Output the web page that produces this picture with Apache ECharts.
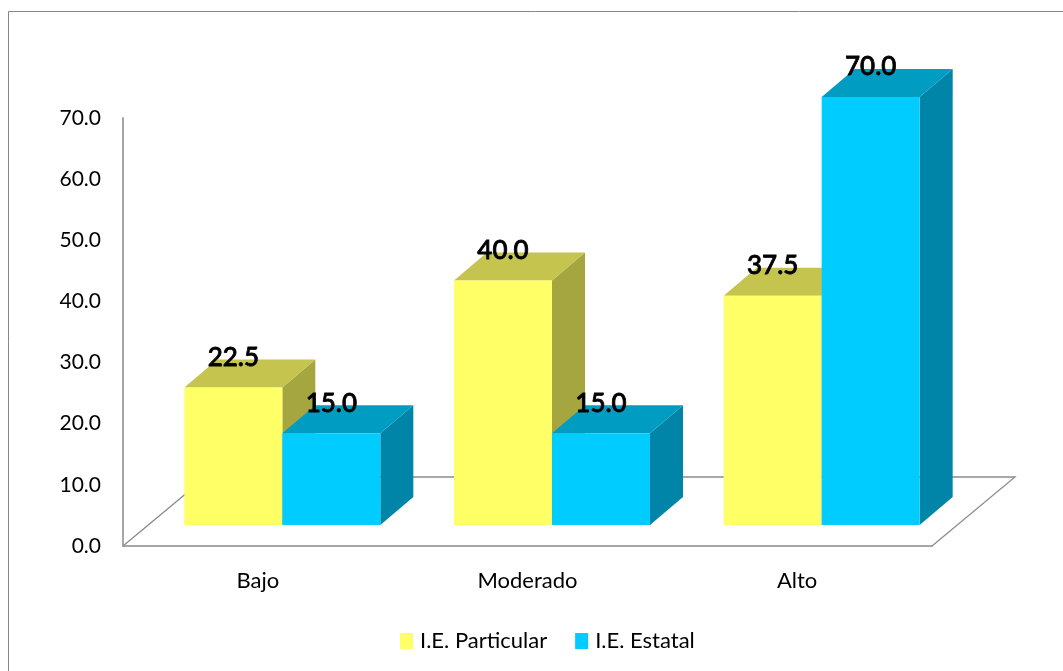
<!DOCTYPE html>
<html>
<head>
<meta charset="utf-8">
<style>html,body{margin:0;padding:0;background:#fff}#chart{width:1063px;height:671px}</style>
<script src="https://cdn.jsdelivr.net/npm/echarts@6/dist/echarts.min.js"></script>
</head>
<body>
<div id="chart"></div>
<script>
// Nivel por tipo de institución educativa
const categories = ['Bajo', 'Moderado', 'Alto'];
const particular = [22.5, 40.0, 37.5];
const estatal = [15.0, 15.0, 70.0];
const yMax = 70;
const yStep = 10;

// Pseudo-3D geometry, in pixels
const BAR_W = 98;
const BAR_SHIFT = 24.5;   // boundary between the two bars, right of the band centre
const BASE_LIFT = 21;     // bars stand this far above the front edge of the floor
const DEPTH_X = 33;
const DEPTH_Y = 28;
const FLOOR_X = 83;
const FLOOR_Y = 69;

const FONT = 'Lato, "Open Sans", sans-serif';
const polygon = (points, fill, z2) => ({
  type: 'polygon', z2, silent: true, shape: { points }, style: { fill, stroke: null }
});

// One box per data point: front, top and side faces plus its value label
function boxRenderer(side, front, top, shade) {
  return function (params, api) {
    const p = api.coord([api.value(0), api.value(1)]);
    const base = api.coord([api.value(0), 0]);
    const x0 = p[0] + BAR_SHIFT + (side < 0 ? -BAR_W : 0);
    const x1 = x0 + BAR_W;
    const yT = p[1] - BASE_LIFT;
    const yB = base[1] - BASE_LIFT;
    return {
      type: 'group',
      children: [
        polygon([[x1, yT], [x1 + DEPTH_X, yT - DEPTH_Y], [x1 + DEPTH_X, yB - DEPTH_Y], [x1, yB]], shade, 1),
        polygon([[x0, yT], [x0 + DEPTH_X, yT - DEPTH_Y], [x1 + DEPTH_X, yT - DEPTH_Y], [x1, yT]], top, 1),
        polygon([[x0, yT], [x1, yT], [x1, yB], [x0, yB]], front, 2),
        {
          type: 'text', z2: 5, silent: true,
          style: {
            text: api.value(1).toFixed(1),
            x: (x0 + x1) / 2, y: yT - 30,
            align: 'center', verticalAlign: 'middle',
            fill: '#000', font: '500 26px ' + FONT,
            stroke: '#000', lineWidth: 0.8
          }
        }
      ]
    };
  };
}

// Floor outline: right and left receding edges and the back edge
function floorRenderer(params) {
  const c = params.coordSys;
  const l = c.x, r = c.x + c.width, b = c.y + c.height;
  const stroke = { stroke: '#8c8c8c', lineWidth: 1.3, fill: null };
  return {
    type: 'polyline', silent: true,
    shape: { points: [[l, b], [l + FLOOR_X, b - FLOOR_Y], [r + FLOOR_X, b - FLOOR_Y], [r, b]] },
    style: stroke
  };
}

const chart = echarts.init(document.getElementById('chart'), null, { renderer: 'canvas' });
chart.setOption({
  animation: false,
  backgroundColor: '#fff',
  textStyle: { fontFamily: FONT },
  graphic: [{
    type: 'polyline', silent: true,
    shape: { points: [[8.5, 671], [8.5, 11.5], [1063, 11.5]] },
    style: { stroke: '#868686', lineWidth: 1, fill: null }
  }],
  legend: {
    left: 400, top: 630, padding: 0, icon: 'rect',
    itemWidth: 13, itemHeight: 16, itemGap: 28,
    data: ['I.E. Particular', 'I.E. Estatal'],
    selectedMode: false,
    textStyle: { fontFamily: FONT, fontSize: 22, color: '#000', padding: [0, 0, 0, 2] }
  },
  grid: { left: 123, right: 131, top: 118, bottom: 125 },
  xAxis: {
    type: 'category', data: categories,
    axisLine: { lineStyle: { color: '#a6a6a6', width: 2 } },
    axisTick: { show: false },
    axisLabel: { fontFamily: FONT, fontSize: 22, color: '#000', margin: 24 }
  },
  yAxis: {
    type: 'value', min: 0, max: yMax, interval: yStep,
    axisLine: { show: true, lineStyle: { color: '#a6a6a6', width: 2 } },
    axisTick: { show: false },
    splitLine: { show: false },
    axisLabel: {
      fontFamily: FONT, fontSize: 21, color: '#000', margin: 22,
      formatter: (v) => v.toFixed(1)
    }
  },
  series: [
    {
      type: 'custom', name: 'floor', silent: true, z: 1,
      renderItem: floorRenderer,
      data: [[0, 0]],
      encode: { x: 0, y: 1 }
    },
    {
      type: 'custom', name: 'I.E. Particular', z: 2,
      itemStyle: { color: '#FFFF66' },
      renderItem: boxRenderer(-1, '#FFFF66', '#C4C44E', '#A6A640'),
      data: particular.map((v, i) => [i, v]),
      encode: { x: 0, y: 1 }
    },
    {
      type: 'custom', name: 'I.E. Estatal', z: 3,
      itemStyle: { color: '#00CCFF' },
      renderItem: boxRenderer(1, '#00CCFF', '#009CC2', '#0085A8'),
      data: estatal.map((v, i) => [i, v]),
      encode: { x: 0, y: 1 }
    }
  ]
});
</script>
</body>
</html>
